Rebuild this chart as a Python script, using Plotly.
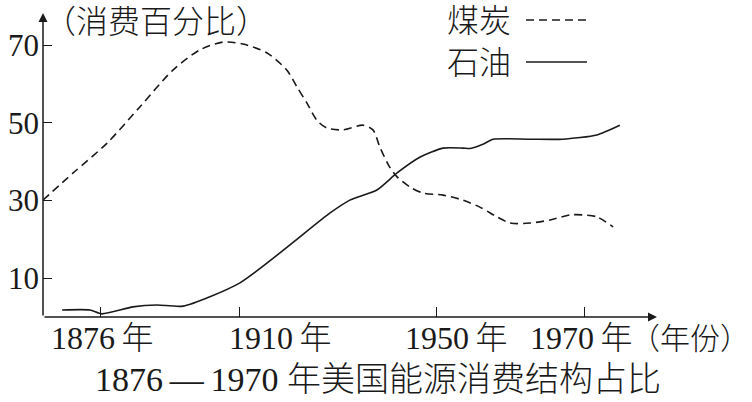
import numpy as np
import plotly.graph_objects as go

# ---------------- data ----------------
tick_years = [1876, 1910, 1950, 1970]
tick_labels = ["1876\u2009年", "1910\u2009年", "1950\u2009年", "1970\u2009年"]
y_ticks = [10, 30, 50, 70]

coal_year = [1861.8, 1869.2, 1877.5, 1885.5, 1893.6, 1900.2, 1905.8, 1910.6, 1915.5,
             1919.5, 1921.6, 1923.6, 1925.6, 1927.6, 1930.9, 1935.0, 1937.0, 1938.4,
             1940.4, 1941.9, 1944.5, 1947.2, 1950.8, 1953.5, 1955.8, 1958.1, 1959.9,
             1962.6, 1965.3, 1968.0, 1969.7, 1971.6, 1973.8]
coal_val = [30.1, 37.1, 44.8, 54.1, 63.6, 68.8, 70.8, 70.3, 68.0,
            63.6, 59.2, 55.1, 50.7, 48.7, 48.2, 49.4, 48.2, 43.8,
            38.6, 36.1, 33.5, 31.9, 31.4, 30.1, 28.3, 25.8, 24.2,
            24.2, 25.0, 26.3, 26.3, 25.8, 23.2]

oil_year = [1866.5, 1873.3, 1876.2, 1883.8, 1889.7, 1896.1, 1910.0, 1928.3, 1932.3,
            1937.8, 1941.9, 1946.6, 1950.8, 1953.5, 1954.5, 1956.2, 1957.6, 1962.6,
            1967.0, 1971.6, 1974.7]
oil_val = [1.8, 1.8, 0.8, 2.6, 3.1, 2.8, 8.8, 26.8, 30.1,
           32.7, 37.1, 41.2, 43.5, 43.5, 43.4, 44.5, 45.8, 45.8,
           45.8, 46.9, 49.4]

# ---------------- layout helpers ----------------
# the printed time axis is not evenly spaced; ticks sit at these axis positions
tick_pos = [0.0, 1.0, 2.417, 3.482]
label_pos = [0.007, 1.288, 2.554, 3.453]   # centres of the printed year labels
x_range = [-0.417, 4.0]
y_range = [0, 78.3]


def year_to_pos(years):
    years = np.asarray(years, dtype=float)
    ty = np.asarray(tick_years, dtype=float)
    tp = np.asarray(tick_pos, dtype=float)
    pos = np.interp(years, ty, tp)
    s0 = (tp[1] - tp[0]) / (ty[1] - ty[0])
    s1 = (tp[-1] - tp[-2]) / (ty[-1] - ty[-2])
    pos = np.where(years < ty[0], tp[0] + (years - ty[0]) * s0, pos)
    pos = np.where(years > ty[-1], tp[-1] + (years - ty[-1]) * s1, pos)
    return pos


W, H = 752, 402
ML, MR, MT, MB = 43, 95, 13, 85
PW, PH = W - ML - MR, H - MT - MB


def px(x):
    return (x - ML) / PW


def py(y):
    return (H - MB - y) / PH


INK = "#1a1a1a"
FONT = "Liberation Serif, 'Noto Sans CJK SC', serif"


def f(size):
    return dict(size=size, color=INK, family=FONT, weight=300)


fig = go.Figure()
fig.add_trace(go.Scatter(x=year_to_pos(coal_year), y=coal_val, mode="lines",
                         line=dict(color=INK, width=1.6, dash="8px,5px", shape="spline", smoothing=0.8),
                         hoverinfo="skip", showlegend=False))
fig.add_trace(go.Scatter(x=year_to_pos(oil_year), y=oil_val, mode="lines",
                         line=dict(color=INK, width=1.6, shape="spline", smoothing=0.6),
                         hoverinfo="skip", showlegend=False))

ann = []
# axes with arrows
ann.append(dict(x=x_range[0], y=y_range[1], ax=x_range[0], ay=0, xref="x", yref="y",
                axref="x", ayref="y", text="", showarrow=True, arrowhead=2, arrowsize=1.2,
                arrowwidth=1.5, arrowcolor=INK))
ann.append(dict(x=x_range[1], y=0, ax=x_range[0], ay=0, xref="x", yref="y",
                axref="x", ayref="y", text="", showarrow=True, arrowhead=2, arrowsize=1.2,
                arrowwidth=1.5, arrowcolor=INK))
# year labels
for lp, lab in zip(label_pos, tick_labels):
    ann.append(dict(x=lp, y=py(338), xref="x", yref="paper", text=lab, showarrow=False,
                    xanchor="center", yanchor="middle", font=f(32)))
ann.append(dict(x=px(752), y=py(338), xref="paper", yref="paper", text="（年份）", showarrow=False,
                xanchor="right", yanchor="middle", font=f(30)))
# y title
ann.append(dict(x=px(42), y=py(22), xref="paper", yref="paper", text="（消费百分比）", showarrow=False,
                xanchor="left", yanchor="middle", font=f(32)))
# caption
ann.append(dict(x=px(378), y=py(379), xref="paper", yref="paper",
                text="1876\u2009—\u20091970 年美国能源消费结构占比", showarrow=False,
                xanchor="center", yanchor="middle", font=f(34)))
# legend texts
ann.append(dict(x=px(445), y=py(21), xref="paper", yref="paper", text="煤炭", showarrow=False,
                xanchor="left", yanchor="middle", font=f(32)))
ann.append(dict(x=px(445), y=py(63), xref="paper", yref="paper", text="石油", showarrow=False,
                xanchor="left", yanchor="middle", font=f(32)))

shapes = [
    dict(type="line", xref="paper", yref="paper", x0=px(526), x1=px(587), y0=py(20), y1=py(20),
         line=dict(color=INK, width=1.6, dash="8px,5px")),
    dict(type="line", xref="paper", yref="paper", x0=px(526), x1=px(587), y0=py(62), y1=py(62),
         line=dict(color=INK, width=1.6)),
]

fig.update_layout(
    width=W, height=H, margin=dict(l=ML, r=MR, t=MT, b=MB, autoexpand=False),
    paper_bgcolor="white", plot_bgcolor="white",
    annotations=ann, shapes=shapes, showlegend=False,
    xaxis=dict(range=x_range, showgrid=False, zeroline=False, showline=False, automargin=False,
               tickmode="array", tickvals=tick_pos, ticks="inside", ticklen=10,
               tickwidth=1.3, tickcolor=INK, showticklabels=False, fixedrange=True),
    yaxis=dict(range=y_range, showgrid=False, zeroline=False, showline=False, automargin=False,
               tickmode="array", tickvals=y_ticks, ticktext=[str(v) for v in y_ticks],
               ticks="inside", ticklen=9, tickwidth=1.3, tickcolor=INK, ticklabelstandoff=3,
               tickfont=f(31), fixedrange=True),
)

fig.write_html("out.html", config=dict(displayModeBar=False),
               post_script="document.body.style.margin='0';document.body.style.overflow='hidden';")
